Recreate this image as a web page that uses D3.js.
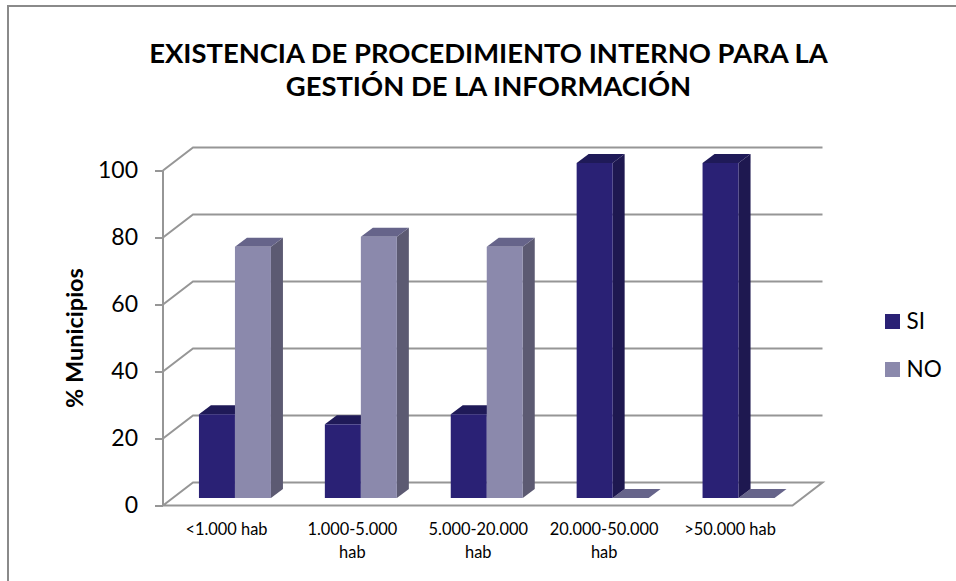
<!DOCTYPE html>
<html><head><meta charset="utf-8">
<script src="https://cdn.jsdelivr.net/npm/d3@7/dist/d3.min.js"></script>
<style>html,body{margin:0;padding:0;background:#fff}svg{display:block}text{font-family:Lato,"Open Sans",sans-serif;fill:#000}</style>
</head><body><svg id="c" width="956" height="581"></svg>
<script>
const categories = [["<1.000 hab"],["1.000-5.000","hab"],["5.000-20.000","hab"],["20.000-50.000","hab"],[">50.000 hab"]];
const seriesNames = ["SI","NO"];
const valuesSI = [25,22,25,100,100];
const valuesNO = [75,78,75,0,0];
const yTicks = [0,20,40,60,80,100];
const titleLines = ["EXISTENCIA DE PROCEDIMIENTO INTERNO PARA LA","GESTIÓN DE LA INFORMACIÓN"];
const yTitle = "% Municipios";

const svg = d3.select("#c");
svg.append("path").attr("d","M8,581V6H956").attr("fill","none").attr("stroke","#8a8a8a").attr("stroke-width",2);

const fx0=163, fx1=792.5, fy0=505.5, fy100=170.5, dx=30, dy=-23;
const y = d3.scaleLinear().domain([0,100]).range([fy0,fy100]);
const xFront = d3.scaleBand().domain(d3.range(5)).range([fx0+9,fx1+9]);
const grid = "#969696";
const g = svg.append("g");
yTicks.forEach(t=>{
  if(t>0) g.append("path").attr("d",`M${fx0},${y(t)}L${fx0+dx},${y(t)+dy}H${fx1+dx}`).attr("fill","none").attr("stroke",grid).attr("stroke-width",2);
});
g.append("path").attr("d",`M${fx0},${fy0}V${fy100}`).attr("stroke",grid).attr("stroke-width",2);
g.append("path").attr("d",`M${fx0},${fy0}L${fx0+dx},${fy0+dy}H${fx1+dx}L${fx1},${fy0}Z`).attr("fill","none").attr("stroke",grid).attr("stroke-width",2);
const ax = g.append("g").attr("transform",`translate(${fx0},0)`).call(d3.axisLeft(y).tickValues(yTicks).tickSize(8).tickFormat(d3.format("d")));
ax.select(".domain").remove();
ax.selectAll("line").attr("stroke",grid).attr("stroke-width",2);
ax.selectAll("text").style("font-size","23px").style("font-family","Lato,sans-serif").attr("x",-25).attr("fill","#000");

const bw=36, bdx=12, bdy=-9, base=-7.5;
const colors = {SI:["#2a2175","#1e1850","#1f1a58"],NO:["#8b89ac","#5c5a72","#66648a"]};
function bar(cx,v,c){
  const h = y(0)-y(v);
  const by = y(0)+base, ty = by-h;
  const b = g.append("g");
  b.append("path").attr("d",`M${cx+bw},${by}L${cx+bw+bdx},${by+bdy}V${ty+bdy}L${cx+bw},${ty}Z`).attr("fill",c[1]);
  b.append("path").attr("d",`M${cx},${ty}L${cx+bdx},${ty+bdy}H${cx+bw+bdx}L${cx+bw},${ty}Z`).attr("fill",c[2]);
  if(v>0) b.append("rect").attr("x",cx).attr("y",ty).attr("width",bw).attr("height",h).attr("fill",c[0]);
}
categories.forEach((cat,i)=>{
  const x0 = xFront(i)+(xFront.bandwidth()-2*bw)/2;
  const marks = [[x0,valuesSI[i],colors.SI],[x0+bw,valuesNO[i],colors.NO]];
  marks.sort((a,b)=>a[1]-b[1]).forEach(m=>bar(m[0],m[1],m[2]));
  const tx = x0+bw-8.5;
  const t = g.append("text").attr("text-anchor","middle").style("font-size","16.4px");
  cat.forEach((l,k)=>t.append("tspan").attr("x",tx).attr("y",535+k*23).text(l));
});
titleLines.forEach((l,k)=>svg.append("text").attr("text-anchor","middle").attr("x",488.5).attr("y",63+k*33).style("font-size","27.4px").style("font-weight","700").text(l));
svg.append("text").attr("transform","translate(83,338) rotate(-90)").attr("text-anchor","middle").style("font-size","23.5px").style("font-weight","700").text(yTitle);
seriesNames.forEach((s,i)=>{
  const ly=[314,362][i];
  svg.append("rect").attr("x",885).attr("y",ly).attr("width",15).attr("height",15).attr("fill",colors[s][0]);
  svg.append("text").attr("x",906.5).attr("y",ly+15).style("font-size","22.5px").text(s);
});
</script></body></html>
